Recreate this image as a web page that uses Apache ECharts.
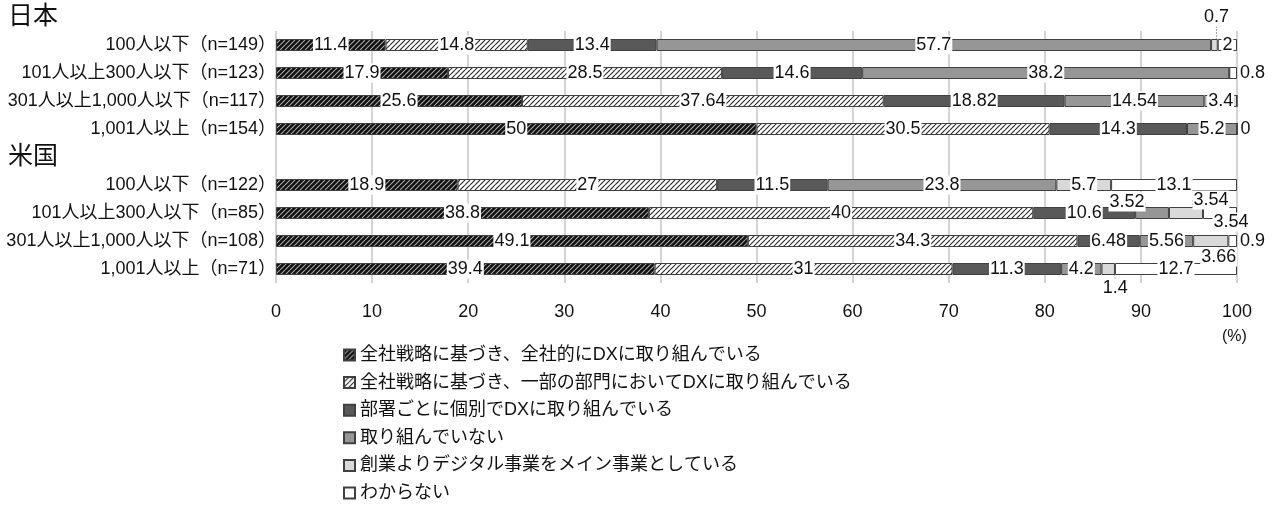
<!DOCTYPE html>
<html>
<head>
<meta charset="utf-8">
<script src="https://cdn.jsdelivr.net/npm/echarts@6/dist/echarts.min.js"></script>
<style>
  html, body { margin: 0; padding: 0; background: #fff; }
  #chart { width: 1275px; height: 507px; }
</style>
</head>
<body>
<div id="chart"></div>
<script>
// Company size groups, Japan first, then a spacer row for the US heading, then the US
const categories = [
  '100人以下（n=149）',
  '101人以上300人以下（n=123）',
  '301人以上1,000人以下（n=117）',
  '1,001人以上（n=154）',
  '',
  '100人以下（n=122）',
  '101人以上300人以下（n=85）',
  '301人以上1,000人以下（n=108）',
  '1,001人以上（n=71）'
];

const seriesNames = [
  '全社戦略に基づき、全社的にDXに取り組んでいる',
  '全社戦略に基づき、一部の部門においてDXに取り組んでいる',
  '部署ごとに個別でDXに取り組んでいる',
  '取り組んでいない',
  '創業よりデジタル事業をメイン事業としている',
  'わからない'
];

// Shares in percent per row (null = heading spacer row)
const companyWide   = [11.4, 17.9, 25.6, 50,   null, 18.9, 38.8, 49.1, 39.4];
const partialDepts  = [14.8, 28.5, 37.64, 30.5, null, 27,   40,   34.3, 31];
const perDepartment = [13.4, 14.6, 18.82, 14.3, null, 11.5, 10.6, 6.48, 11.3];
const notEngaged    = [57.7, 38.2, 14.54, 5.2,  null, 23.8, 3.52, 5.56, 4.2];
const digitalNative = [0.7,  0,    3.4,   0,    null, 5.7,  3.54, 3.66, 1.4];
const unknown       = [2,    0.8,  0,     0,    null, 13.1, 3.54, 0.9,  12.7];

const xTicks = [0, 10, 20, 30, 40, 50, 60, 70, 80, 90, 100];

const seriesValues = [companyWide, partialDepts, perDepartment, notEngaged, digitalNative, unknown];

// Labels pulled off small segments, with a leader line: "series-row": [dx, dy]
const callouts = {
  '4-0': [2, -28],
  '3-6': [-25, -11],
  '4-6': [25, -13],
  '5-6': [11, 9],
  '4-7': [8, 16],
  '4-8': [7, 19]
};
// Labels placed just past the end of the bar
const outsideRight = { '5-1': true, '4-3': true, '5-7': true };

function hatch(bg, fg, size, lw) {
  const c = document.createElement('canvas');
  c.width = size; c.height = size;
  const ctx = c.getContext('2d');
  ctx.fillStyle = bg;
  ctx.fillRect(0, 0, size, size);
  ctx.strokeStyle = fg;
  ctx.lineWidth = lw;
  ctx.beginPath();
  for (let k = -1; k <= 1; k++) {
    ctx.moveTo(k * size, size);
    ctx.lineTo(k * size + size, 0);
  }
  ctx.stroke();
  return { image: c, repeat: 'repeat' };
}

const fills = [
  hatch('#111111', '#a8a8a8', 5, 1.1),
  hatch('#ffffff', '#262626', 5, 1.1),
  '#595959',
  '#969696',
  '#d9d9d9',
  '#ffffff'
];

const font = '"Liberation Sans", "Noto Sans CJK JP", sans-serif';

function buildData(si) {
  return seriesValues[si].map((v, di) => {
    if (v === null) return '-';
    const key = si + '-' + di;
    const item = { value: v };
    if (callouts[key]) {
      item.labelLine = { show: true };
    } else if (outsideRight[key]) {
      item.label = { position: 'right', distance: 2, backgroundColor: 'transparent' };
    } else if (v === 0) {
      item.label = { show: false };
    }
    return item;
  });
}

const series = seriesNames.map((name, si) => ({
  name: name,
  type: 'bar',
  stack: 'total',
  barWidth: 12,
  data: buildData(si),
  itemStyle: { color: fills[si], borderColor: '#404040', borderWidth: 1 },
  label: {
    show: true,
    position: 'inside',
    fontFamily: font,
    fontSize: 18,
    color: '#111',
    backgroundColor: '#fff',
    padding: [1, 1, 0, 1],
    formatter: p => String(p.value)
  },
  labelLine: {
    show: false,
    lineStyle: { color: '#444', width: 1, type: [1, 2] }
  },
  labelLayout: function (p) {
    const off = callouts[p.seriesIndex + '-' + p.dataIndex];
    if (!off) return {};
    return {
      x: p.rect.x + p.rect.width / 2 + off[0],
      y: p.rect.y + p.rect.height / 2 + off[1],
      align: 'center',
      verticalAlign: 'middle'
    };
  },
  emphasis: { disabled: true },
  animation: false
}));

const chart = echarts.init(document.getElementById('chart'), null, { renderer: 'canvas' });

chart.setOption({
  animation: false,
  textStyle: { fontFamily: font },
  grid: { left: 276, right: 38, top: 31, height: 252, containLabel: false },
  xAxis: {
    type: 'value',
    min: xTicks[0],
    max: xTicks[xTicks.length - 1],
    interval: xTicks[1] - xTicks[0],
    axisLine: { show: false },
    axisTick: { show: false },
    splitLine: { show: true, lineStyle: { color: '#c6c6c6', width: 1.5 } },
    axisLabel: { fontFamily: font, fontSize: 18, color: '#111', margin: 20 }
  },
  yAxis: {
    type: 'category',
    inverse: true,
    data: categories,
    axisLine: { show: false },
    axisTick: { show: false },
    axisLabel: { fontFamily: font, fontSize: 18, color: '#111', margin: 0 }
  },
  legend: {
    orient: 'vertical',
    left: 343,
    top: 346,
    height: 170,
    padding: 0,
    itemWidth: 11,
    itemHeight: 11,
    itemGap: 9.6,
    icon: 'rect',
    selectedMode: false,
    textStyle: { fontFamily: font, fontSize: 18, color: '#111', lineHeight: 18 },
    data: seriesNames
  },
  graphic: [
    { type: 'text', left: 8, top: 5, style: { text: '日本', font: '25px ' + font, fill: '#111' } },
    { type: 'text', left: 8, top: 145, style: { text: '米国', font: '25px ' + font, fill: '#111' } },
    { type: 'text', left: 1222, top: 329, style: { text: '(%)', font: '16px ' + font, fill: '#111' } }
  ],
  series: series
});
</script>
</body>
</html>
